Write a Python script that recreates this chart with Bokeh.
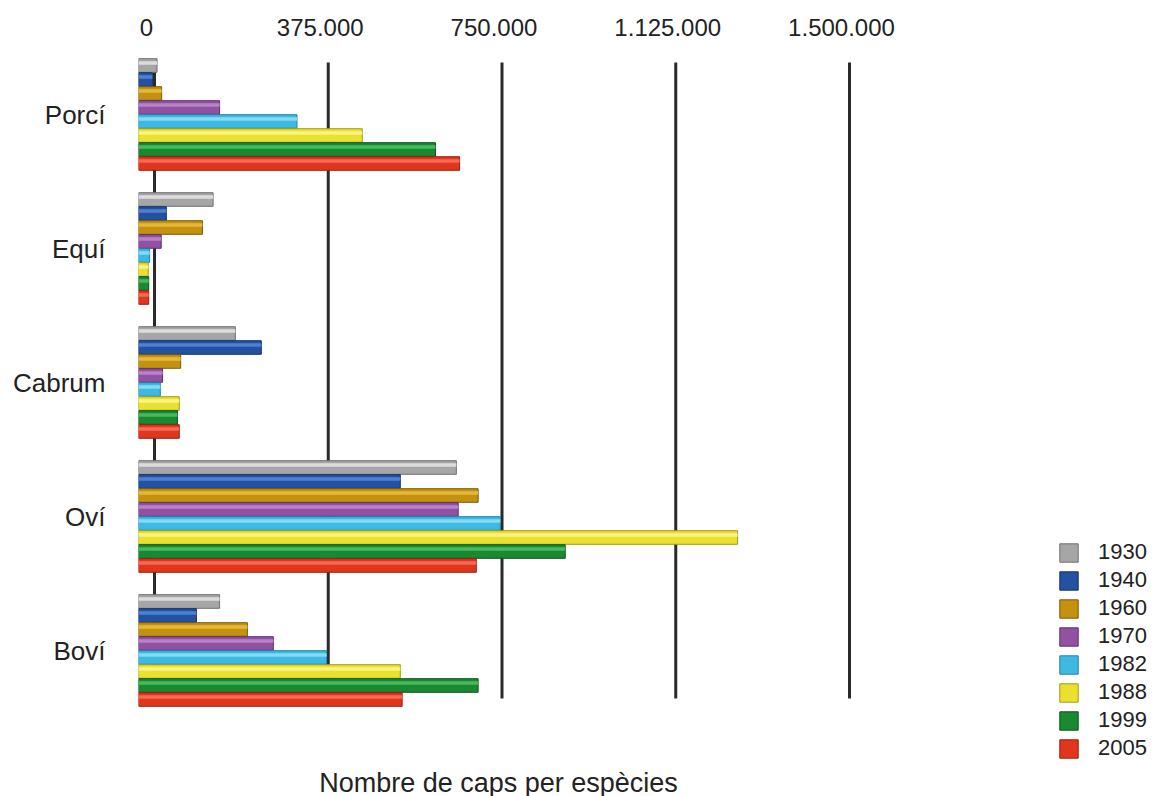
from bokeh.plotting import figure
from bokeh.models import (Range1d, LinearAxis, FixedTicker, ColumnDataSource,
                          Legend, LegendItem, Label)
from bokeh.transform import dodge
from bokeh.embed import file_html
from bokeh.resources import INLINE

# ---------------- data ----------------
species = ["Porcí", "Equí", "Cabrum", "Oví", "Boví"]
years = ["1930", "1940", "1960", "1970", "1982", "1988", "1999", "2005"]
v1930 = [40000, 161000, 209000, 686000, 175000]
v1940 = [30000, 60000, 265000, 565000, 125000]
v1960 = [50000, 138000, 91000, 733000, 235000]
v1970 = [175000, 49000, 52000, 690000, 291000]
v1982 = [342000, 24000, 47000, 781000, 406000]
v1988 = [483000, 21000, 88000, 1293000, 565000]
v1999 = [641000, 22000, 84000, 921000, 733000]
v2005 = [693000, 22000, 88000, 729000, 569000]
series = [v1930, v1940, v1960, v1970, v1982, v1988, v1999, v2005]
tick_values = [0, 375000, 750000, 1125000, 1500000]
tick_labels = ["0", "375.000", "750.000", "1.125.000", "1.500.000"]
x_title = "Nombre de caps per espècies"

# ---------------- styles ----------------
base_colors = ["#a6a6a6", "#2452a2", "#c4920e", "#9152a2", "#3db9e2", "#e9e12e", "#1a8a32", "#e1361d"]
hi_colors = ["#dcdcdc", "#4f80d0", "#e4b83a", "#b882c8", "#86daf4", "#f8f384", "#48b85c", "#f46a52"]
edge_colors = ["#6e6e6e", "#132f68", "#7a5908", "#5e2e70", "#1a82aa", "#a29a18", "#0b5218", "#9a1c0e"]
FONT = "Liberation Sans"

W, H = 1154, 796
FL, FT = 138, 47                 # frame left / top (px)
FR, FB = W, H                    # frame right / bottom
PX = 173.75 / 375000.0           # px per unit on the value axis
FW = FR - FL
DEPTH = 16                       # 3D back-wall offset (px)
PITCH = 134.0                    # px per category
BAR_H = 14.0 / PITCH

ypos = [len(species) - 1 - k for k in range(len(species))]
y_top = ypos[0] + 0.5
y_bot = y_top - (FB - FT) / PITCH

p = figure(width=W, height=H, output_backend="svg", toolbar_location=None,
           x_range=Range1d(0, FW / PX), y_range=Range1d(y_bot, y_top),
           x_axis_location=None,
           min_border_left=FL, min_border_top=FT,
           min_border_right=0, min_border_bottom=0)
p.extra_x_ranges = {
    "back": Range1d(-DEPTH / PX, (FW - DEPTH) / PX),
    "lab": Range1d(-8 / PX, (FW - 8) / PX),
}
p.xgrid.visible = False
p.ygrid.visible = False
p.outline_line_color = None
p.background_fill_color = "white"
p.border_fill_color = "white"

# top axis
ax = LinearAxis(x_range_name="lab", ticker=FixedTicker(ticks=tick_values),
                major_label_overrides={v: l for v, l in zip(tick_values, tick_labels)})
ax.axis_line_color = None
ax.major_tick_line_color = None
ax.minor_tick_line_color = None
ax.major_tick_out = 0
ax.major_tick_in = 0
ax.major_label_standoff = 12
ax.major_label_text_font = FONT
ax.major_label_text_font_size = "24px"
ax.major_label_text_color = "#222222"
p.add_layout(ax, "above")

# left axis (species)
p.yaxis.ticker = FixedTicker(ticks=ypos)
p.yaxis.major_label_overrides = {y: s for y, s in zip(ypos, species)}
p.yaxis.axis_line_color = None
p.yaxis.major_tick_line_color = None
p.yaxis.minor_tick_line_color = None
p.yaxis.major_tick_out = 0
p.yaxis.major_tick_in = 0
p.yaxis.major_label_standoff = 33
p.yaxis.major_label_text_font = FONT
p.yaxis.major_label_text_font_size = "26px"
p.yaxis.major_label_text_color = "#222222"

# back-wall grid lines
gsrc = ColumnDataSource(dict(x=tick_values,
                             top=[ypos[0]] * len(tick_values),
                             bot=[ypos[-1]] * len(tick_values)))
p.segment(x0="x", x1="x", y0=dodge("top", 0.388), y1=dodge("bot", -0.358),
          x_range_name="back", line_width=3, line_color="#2a2a2a", source=gsrc)

# bars
items = []
for i, (yr, vals) in enumerate(zip(years, series)):
    src = ColumnDataSource(dict(y=ypos, val=vals))
    off = (3.5 - i) * BAR_H
    r = p.hbar(y=dodge("y", off), left=0, right="val", height=BAR_H * 0.97,
               fill_color=base_colors[i], line_color=edge_colors[i], line_width=1, source=src)
    p.hbar(y=dodge("y", off + BAR_H * 0.18), left=0, right="val",
           height=BAR_H * 0.26, fill_color=hi_colors[i], line_color=None, source=src)
    items.append(LegendItem(label=yr, renderers=[r]))

legend = Legend(items=items, location=(919, 35), glyph_width=23, glyph_height=23,
                spacing=2, label_standoff=18, padding=0, margin=0,
                border_line_color=None, background_fill_alpha=0,
                label_text_font=FONT, label_text_font_size="22px", label_text_color="#222222")
p.add_layout(legend)

p.add_layout(Label(x=360, y=14, x_units="screen", y_units="screen", text=x_title,
                   text_align="center", text_baseline="alphabetic",
                   text_font=FONT, text_font_size="27px", text_color="#222222"))

open("out.html", "w").write(file_html(p, INLINE))
